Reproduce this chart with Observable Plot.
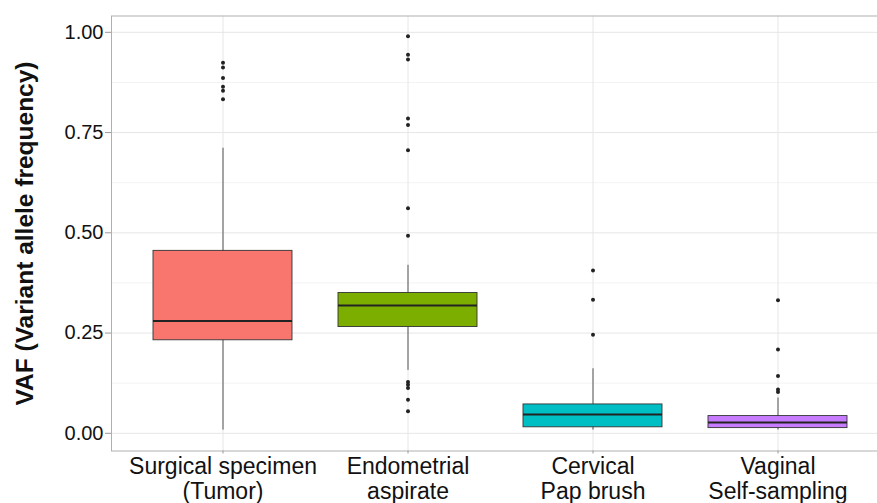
<!DOCTYPE html>
<html><head><meta charset="utf-8">
<script src="https://cdn.jsdelivr.net/npm/d3@7"></script>
<script src="https://cdn.jsdelivr.net/npm/@observablehq/plot@0.6"></script>
<style>html,body{margin:0;padding:0;background:#fff} #chart svg{display:block}</style>
</head><body><div id="chart"></div>
<script>
const categories = ["Surgical specimen\n(Tumor)", "Endometrial\naspirate", "Cervical\nPap brush", "Vaginal\nSelf-sampling"];
const fillColors = ["#F8766D", "#7CAE00", "#00BFC4", "#C77CFF"];
const q1 = [0.232, 0.265, 0.015, 0.013];
const median = [0.280, 0.319, 0.047, 0.027];
const q3 = [0.455, 0.350, 0.072, 0.043];
const whiskerLow = [0.008, 0.157, 0.008, 0.008];
const whiskerHigh = [0.711, 0.419, 0.161, 0.088];
const outliersSurgical = [0.924, 0.912, 0.886, 0.864, 0.854, 0.833];
const outliersEndometrial = [0.990, 0.944, 0.932, 0.785, 0.769, 0.706, 0.561, 0.493, 0.128, 0.121, 0.113, 0.084, 0.055];
const outliersCervical = [0.406, 0.333, 0.246];
const outliersVaginal = [0.332, 0.209, 0.143, 0.109, 0.103];
const yTicks = [0, 0.25, 0.5, 0.75, 1];
const yMinorTicks = [0.125, 0.375, 0.625, 0.875];
const yTitle = "VAF (Variant allele frequency)";

const outlierGroups = [outliersSurgical, outliersEndometrial, outliersCervical, outliersVaginal];
const boxes = categories.map((c, i) => ({cat: c, q1: q1[i], med: median[i], q3: q3[i], lo: whiskerLow[i], hi: whiskerHigh[i]}));
const outliers = categories.flatMap((c, i) => outlierGroups[i].map(v => ({cat: c, v})));

const plot = Plot.plot({
  width: 877, height: 503,
  marginLeft: 111, marginRight: -11, marginTop: 15.5, marginBottom: 52.5,
  style: {fontFamily: "'Liberation Sans', Arial, sans-serif", background: "#fff", overflow: "hidden"},
  x: {type: "band", domain: categories, paddingInner: 0.25, paddingOuter: 0.225},
  y: {domain: [-0.0441, 1.0407]},
  color: {type: "ordinal", domain: categories, range: fillColors},
  marks: [
    Plot.ruleY(yMinorTicks, {stroke: "#f3f3f3", strokeWidth: 1}),
    Plot.gridY(yTicks, {stroke: "#e6e6e6", strokeOpacity: 1, strokeWidth: 1}),
    Plot.gridX({stroke: "#e6e6e6", strokeOpacity: 1}),
    Plot.ruleX(boxes, {x: "cat", y1: "lo", y2: "hi", stroke: "#555", strokeWidth: 1}),
    Plot.barY(boxes, {x: "cat", y1: "q1", y2: "q3", fill: "cat", stroke: "#333", strokeWidth: 0.9}),
    Plot.tickY(boxes, {x: "cat", y: "med", stroke: "#222", strokeWidth: 2}),
    Plot.dot(outliers, {x: "cat", y: "v", r: 2, fill: "#222", stroke: null}),
    Plot.frame({stroke: "#b0b0b0"}),
    Plot.axisY(yTicks, {tickFormat: d3.format(".2f"), fontSize: 20, tickSize: 6, tickPadding: 2, label: null, stroke: "#999", fill: "#111"}),
    Plot.axisY({ticks: [], label: yTitle, labelAnchor: "center", labelArrow: "none", labelOffset: 96, fontSize: 24.5, fontWeight: "bold", fill: "#111", tickSize: 0}),
    Plot.axisX({fontSize: 23, tickSize: 3, tickPadding: 2, lineHeight: 1.1, label: null, stroke: "#999", fill: "#111"})
  ]
});
document.getElementById("chart").appendChild(plot);
</script>
</body></html>
